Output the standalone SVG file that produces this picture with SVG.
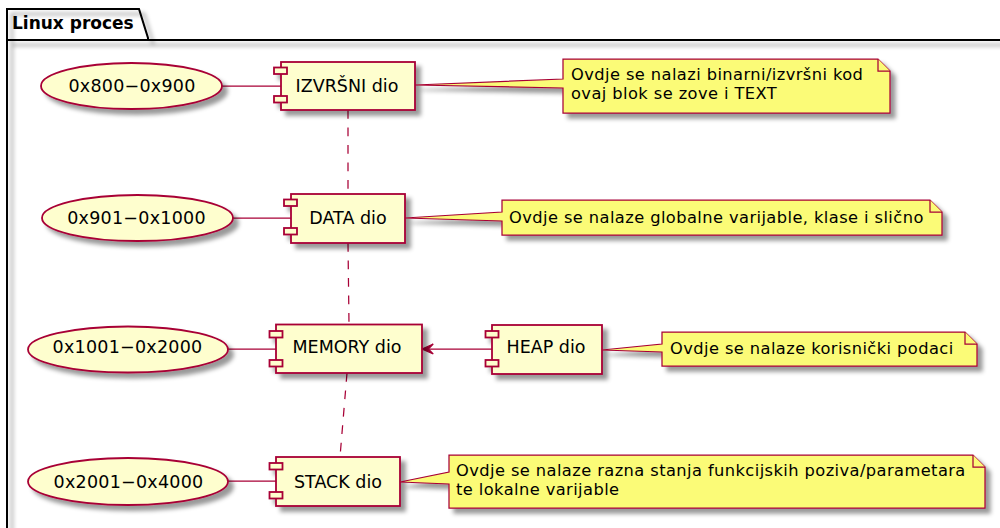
<svg xmlns="http://www.w3.org/2000/svg" width="1000" height="528" viewBox="0 0 1000 528">
<defs>
<filter id="sh" x="-10%" y="-10%" width="130%" height="140%" filterUnits="objectBoundingBox">
<feGaussianBlur in="SourceAlpha" stdDeviation="2.2" result="b"/>
<feColorMatrix in="b" type="matrix" values="0 0 0 0 0  0 0 0 0 0  0 0 0 0 0  0 0 0 0.4 0" result="c"/>
<feOffset in="c" dx="5" dy="5" result="o"/>
<feBlend in="SourceGraphic" in2="o" mode="normal"/>
</filter>
<style>
.pk{fill:none;stroke:#000;stroke-width:2;}
.pt{font-family:"DejaVu Sans",sans-serif;font-weight:bold;font-size:17px;fill:#000;}
.uc{fill:#FEFECE;stroke:#A80036;stroke-width:1.8;}
.cb{fill:#FEFECE;stroke:#A80036;stroke-width:1.8;}
.nt{fill:#FBFB77;stroke:#A80036;stroke-width:1.25;}
.t{font-family:"DejaVu Sans",sans-serif;font-size:17.5px;fill:#000;}
.u{letter-spacing:0.25px;}
.n{font-family:"DejaVu Sans",sans-serif;font-size:16.25px;letter-spacing:0.42px;fill:#000;}
.ln{fill:none;stroke:#A80036;stroke-width:1.25;}
.dl{fill:none;stroke:#A80036;stroke-width:1.25;stroke-dasharray:8.75,8.75;}
.ah{fill:#A80036;stroke:#A80036;stroke-width:1.25;}
</style>
</defs>
<rect width="1000" height="528" fill="#FFFFFF"/>

<g id="package">
<path class="pk" filter="url(#sh)" d="M7,530 L7,40 L1010,40 M7,40 L7,9 L139,9 L148,38 L148,40"/>
<text class="pt" x="12" y="29">Linux proces</text>
</g>

<g id="connectors">
<line class="ln" x1="222" y1="86" x2="281" y2="86"/>
<line class="ln" x1="233" y1="218" x2="291" y2="218"/>
<line class="ln" x1="228" y1="349" x2="276" y2="349"/>
<line class="ln" x1="228" y1="481" x2="276" y2="481"/>
<line class="dl" x1="348" y1="110" x2="348" y2="194"/>
<line class="dl" x1="348" y1="243" x2="349" y2="324"/>
<line class="dl" x1="347" y1="373" x2="340" y2="457"/>
<line class="ln" x1="492" y1="349" x2="424" y2="349"/>
<polygon class="ah" points="422,349 433.25,344 428.25,349 433.25,354"/>
</g>

<g id="u1">
<ellipse class="uc" filter="url(#sh)" cx="131.5" cy="86" rx="90.5" ry="23"/>
<text class="t u" x="132" y="92" text-anchor="middle">0x800−0x900</text>
</g>
<g id="u2">
<ellipse class="uc" filter="url(#sh)" cx="137.5" cy="218" rx="95.5" ry="23"/>
<text class="t u" x="136.5" y="224" text-anchor="middle">0x901−0x1000</text>
</g>
<g id="u3">
<ellipse class="uc" filter="url(#sh)" cx="128" cy="349.5" rx="100" ry="23"/>
<text class="t u" x="127.5" y="353" text-anchor="middle">0x1001−0x2000</text>
</g>
<g id="u4">
<ellipse class="uc" filter="url(#sh)" cx="128" cy="481.5" rx="100" ry="23.5"/>
<text class="t u" x="128.5" y="488" text-anchor="middle">0x2001−0x4000</text>
</g>

<g id="c-izvrsni">
<g filter="url(#sh)">
<rect class="cb" x="281" y="62" width="134" height="48"/>
<rect class="cb" x="274" y="67.5" width="13" height="6.5"/>
<rect class="cb" x="274" y="96" width="13" height="6.5"/>
</g>
<text class="t" x="347" y="92" text-anchor="middle">IZVRŠNI dio</text>
</g>
<g id="c-data">
<g filter="url(#sh)">
<rect class="cb" x="291" y="194" width="114" height="49"/>
<rect class="cb" x="284" y="199.5" width="13" height="6.5"/>
<rect class="cb" x="284" y="228" width="13" height="6.5"/>
</g>
<text class="t" x="348" y="224" text-anchor="middle">DATA dio</text>
</g>
<g id="c-memory">
<g filter="url(#sh)">
<rect class="cb" x="276" y="324.5" width="146" height="48.5"/>
<rect class="cb" x="269.5" y="331" width="13" height="6.5"/>
<rect class="cb" x="269.5" y="360" width="13" height="6.5"/>
</g>
<text class="t" x="347" y="353" text-anchor="middle">MEMORY dio</text>
</g>
<g id="c-stack">
<g filter="url(#sh)">
<rect class="cb" x="276" y="457" width="124" height="49"/>
<rect class="cb" x="269.5" y="463" width="13" height="6.5"/>
<rect class="cb" x="269.5" y="492" width="13" height="6.5"/>
</g>
<text class="t" x="338" y="488" text-anchor="middle">STACK dio</text>
</g>
<g id="c-heap">
<g filter="url(#sh)">
<rect class="cb" x="492" y="325" width="110" height="49"/>
<rect class="cb" x="485.5" y="331" width="13" height="6.5"/>
<rect class="cb" x="485.5" y="360" width="13" height="6.5"/>
</g>
<text class="t" x="546" y="353" text-anchor="middle">HEAP dio</text>
</g>

<g id="note1">
<path class="nt" filter="url(#sh)" d="M563,59 L563,79 L415,85 L563,88 L563,113 L890,113 L890,71 L878,59 Z"/>
<path class="nt" d="M878,59 L878,71 L890,71"/>
<text class="n" x="571" y="80">Ovdje se nalazi binarni/izvršni kod</text>
<text class="n" x="571" y="99">ovaj blok se zove i TEXT</text>
</g>
<g id="note2">
<path class="nt" filter="url(#sh)" d="M502,200 L502,212 L405,218 L502,221 L502,235 L942,235 L942,212 L930,200 Z"/>
<path class="nt" d="M930,200 L930,212 L942,212"/>
<text class="n" x="509" y="223">Ovdje se nalaze globalne varijable, klase i slično</text>
</g>
<g id="note3">
<path class="nt" filter="url(#sh)" d="M662,332 L662,344 L602,350 L662,352 L662,366 L977,366 L977,344 L965,332 Z"/>
<path class="nt" d="M965,332 L965,344 L977,344"/>
<text class="n" x="670" y="354">Ovdje se nalaze korisnički podaci</text>
</g>
<g id="note4">
<path class="nt" filter="url(#sh)" d="M449,455 L449,472 L400,482 L449,484 L449,508 L985,508 L985,467 L973,455 Z"/>
<path class="nt" d="M973,455 L973,467 L985,467"/>
<text class="n" x="456" y="476">Ovdje se nalaze razna stanja funkcijskih poziva/parametara</text>
<text class="n" x="456" y="495">te lokalne varijable</text>
</g>
</svg>
